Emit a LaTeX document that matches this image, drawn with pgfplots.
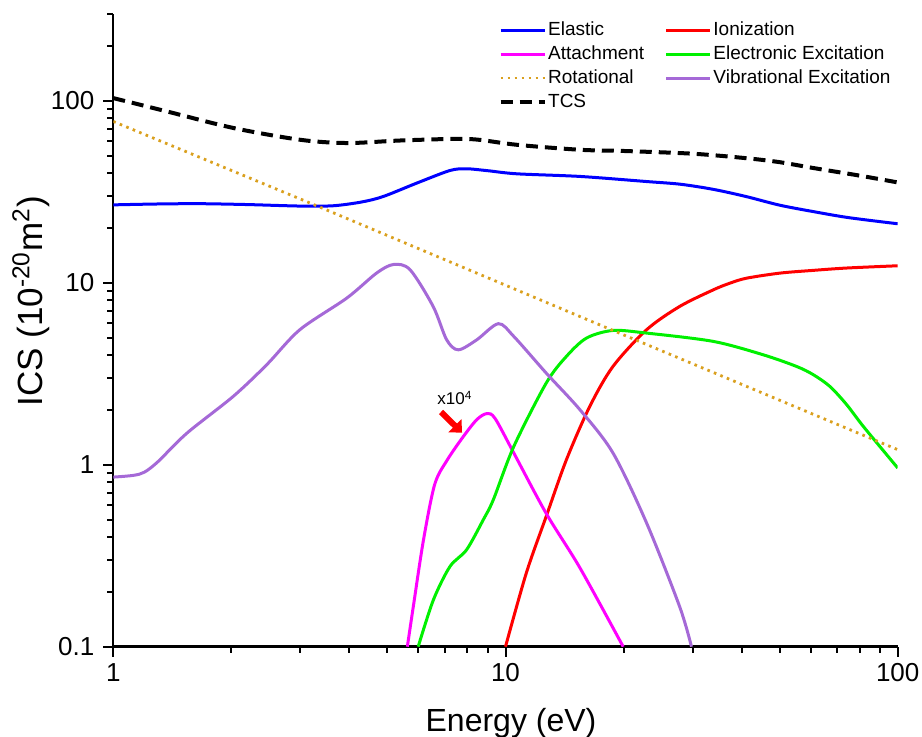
\documentclass[border=0pt]{standalone}
\usepackage{pgfplots}
\pgfplotsset{compat=1.18}
\usepackage{fontspec}
\setmainfont{Liberation Sans}
\usetikzlibrary{arrows.meta}

\definecolor{cElastic}{RGB}{0,0,255}
\definecolor{cIon}{RGB}{255,0,0}
\definecolor{cAtt}{RGB}{255,0,255}
\definecolor{cElec}{RGB}{0,240,0}
\definecolor{cRot}{RGB}{218,160,30}
\definecolor{cVib}{RGB}{165,105,215}

\pgfplotstableread{
E v
1 26.8
1.3 27.1
1.66 27.2
2.2 26.9
2.99 26.4
3.64 26.5
4.3 27.8
4.88 29.8
5.94 35.3
7.22 41.4
7.96 42.3
9 41.3
10.7 39.7
15.5 38.4
22.9 36.0
27.9 34.8
33.9 32.6
41 29.8
50 26.7
61 24.6
75 22.8
100 21.1
}\elastic

\pgfplotstableread{
E v
10 0.1
11.3 0.254
12.7 0.52
14.3 1.065
16.4 2.09
18.8 3.47
22.9 5.52
27.8 7.41
33.9 9.15
37.4 9.96
41.2 10.6
50.1 11.3
61 11.7
74.1 12.05
100 12.4
}\ionization

\pgfplotstableread{
E v
5.62 0.1
5.82 0.166
6.18 0.387
6.6 0.78
7.1 1.06
7.81 1.43
8.45 1.77
8.96 1.91
9.4 1.80
10.5 1.16
12.7 0.54
15.5 0.27
19.96 0.1
}\attachment

\pgfplotstableread{
E v
5.99 0.1
6.55 0.181
7.22 0.276
7.96 0.341
8.78 0.499
9.31 0.642
10.5 1.26
12.7 2.81
14.3 3.94
16.1 4.97
18.8 5.47
22.9 5.29
33.9 4.76
45.4 4.02
55.2 3.47
61 3.12
67.2 2.69
74.1 2.14
81.8 1.62
100 0.96
}\electronic

\pgfplotstableread{
E v
1 77
3.37 26
18.8 5.47
100 1.21
}\rotational

\pgfplotstableread{
E v
1 0.855
1.125 0.874
1.2 0.91
1.3 1.04
1.54 1.49
2.02 2.37
2.46 3.54
2.99 5.52
3.94 8.24
4.69 11.3
5.18 12.6
5.71 11.8
6.54 7.41
7.08 4.86
7.58 4.28
8.45 4.86
9.59 5.96
10.5 5.07
12.7 3.19
15.5 2.0
18.8 1.16
22.9 0.478
27.8 0.166
29.8 0.1
}\vibrational

\pgfplotstableread{
E v
1 103.5
1.37 87.4
2.03 70.8
2.99 61.1
3.94 58.6
5.38 60.5
7.5 61.8
8.6 61
10.7 57.3
15.5 53.8
20 53
30 51.2
41 48.4
50 46
61 42.7
80 38.8
100 35.6
}\tcs

\begin{document}
\begin{tikzpicture}
\begin{axis}[
  name=ax,
  xmode=log, ymode=log,
  scale only axis,
  width=392.2pt, height=316.35pt,
  xmin=1, xmax=100, ymin=0.1, ymax=300,
  axis x line*=bottom, axis y line*=left,
  axis line style={line width=1.2pt, -},
  tick align=outside,
  major tick length=5pt, minor tick length=3pt,
  every tick/.style={black, line width=1pt},
  xtick={1,10,100}, xticklabels={1,10,100},
  ytick={0.1,1,10,100}, yticklabels={0.1,1,10,100},
  minor xtick={2,3,4,5,6,7,8,9,20,30,40,50,60,70,80,90},
  minor ytick={0.2,0.3,0.4,0.5,0.6,0.7,0.8,0.9,2,3,4,5,6,7,8,9,20,30,40,50,60,70,80,90,200,300},
  /pgf/number format/assume math mode=true,
  tick label style={font=\fontsize{13}{13}\selectfont},
  yticklabel style={xshift=-1pt},
  xlabel={Energy (eV)},
  ylabel={ICS (10\textsuperscript{-20}m\textsuperscript{2})},
  xlabel style={font=\fontsize{16}{16}\selectfont, at={(axis description cs:0.507,-0.134)}, anchor=base},
  ylabel style={font=\fontsize{17.5}{17.5}\selectfont, at={(axis description cs:-0.0909,0.546)}, anchor=base},
  legend columns=2,
  legend cell align=left,
  legend image code/.code={\draw[#1] (0pt,0pt) -- (22pt,0pt);},
  legend style={draw=none, fill=none, at={(0.483,0.998)}, anchor=north west,
    font=\fontsize{9.5}{9.5}\selectfont, row sep=1.1pt,
    nodes={inner sep=0.8pt, text height=7.2pt, text depth=2pt},
    /tikz/every even column/.append style={column sep=9.5pt}},
  clip=true,
]
\addplot[cElastic, line width=1.5pt, smooth] table[x=E,y=v] {\elastic};
\addlegendentry{Elastic}
\addplot[cIon, line width=1.5pt, smooth] table[x=E,y=v] {\ionization};
\addlegendentry{Ionization}
\addplot[cAtt, line width=1.5pt, smooth] table[x=E,y=v] {\attachment};
\addlegendentry{Attachment}
\addplot[cElec, line width=1.5pt, smooth] table[x=E,y=v] {\electronic};
\addlegendentry{Electronic Excitation}
\addplot[cRot, line width=1.4pt, dash pattern=on 1.3pt off 2.2pt] table[x=E,y=v] {\rotational};
\addlegendentry{Rotational}
\addplot[cVib, line width=1.5pt, smooth] table[x=E,y=v] {\vibrational};
\addlegendentry{Vibrational Excitation}
\addplot[black, line width=2pt, dash pattern=on 6pt off 3.5pt, smooth] table[x=E,y=v] {\tcs};
\addlegendentry{TCS}
\node[font=\fontsize{8.5}{8.5}\selectfont] at (axis cs:7.43,2.33) {x10\textsuperscript{4}};
\draw[red, line width=3pt, -{Triangle[width=9pt,length=5pt]}] (axis cs:6.85,1.95) -- (axis cs:7.75,1.5);
\end{axis}
\pgfresetboundingbox
\path[use as bounding box] (ax.south west) ++(-56.65pt,-45.15pt) rectangle ++(461pt,368.5pt);
\end{tikzpicture}
\end{document}
